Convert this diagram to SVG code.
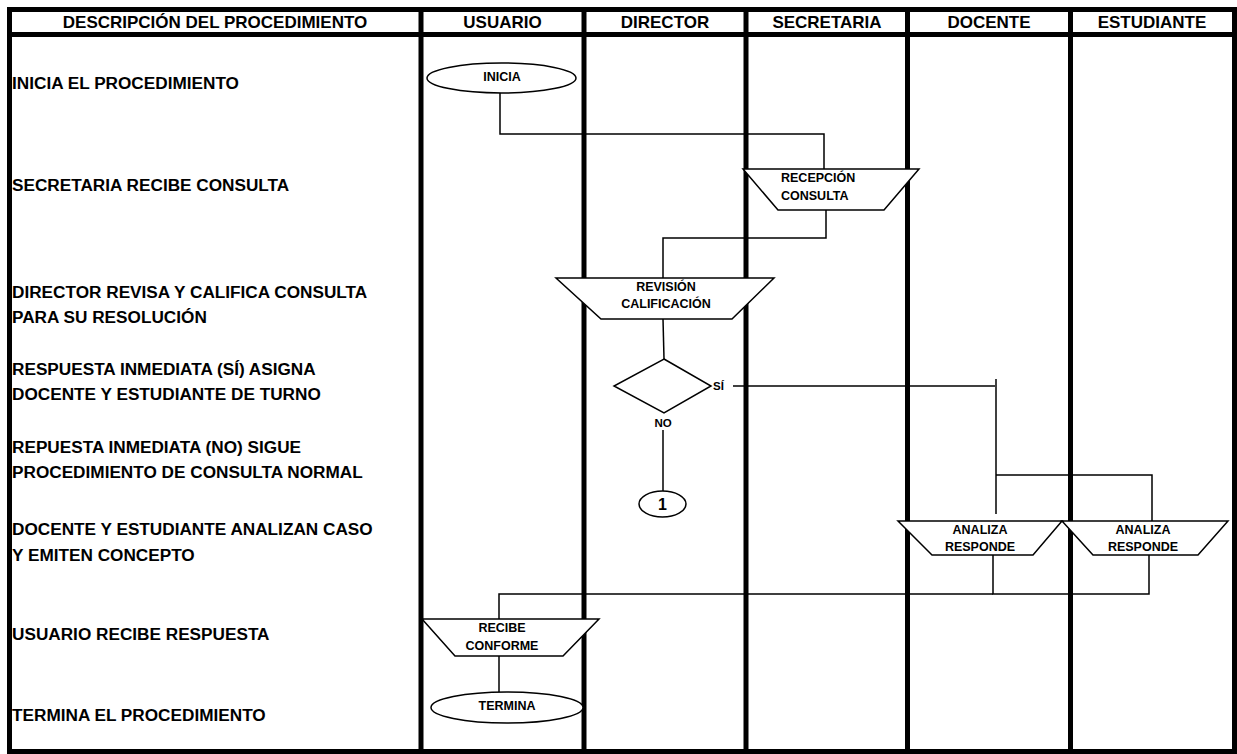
<svg xmlns="http://www.w3.org/2000/svg" width="1237" height="754" viewBox="0 0 1237 754">
<style>
.t{font-family:"Liberation Sans",Arial,sans-serif;font-weight:bold;fill:#000}
.h{font-size:17px;text-anchor:middle}
.d{font-size:17.2px}
.s{font-size:12.5px;text-anchor:middle}
.frame{fill:none;stroke:#000;stroke-width:5}
.lane{stroke:#000;stroke-width:5}
.shape{fill:#fff;stroke:#000;stroke-width:1.5}
.c{fill:none;stroke:#000;stroke-width:1.5}
</style>
<rect width="1237" height="754" fill="#fff"/>
<g id="lanes">
<rect class="frame" x="9.5" y="9.5" width="1225" height="742"/>
<line class="lane" x1="9.5" y1="34.5" x2="1234.5" y2="34.5"/>
<line class="lane" x1="421" y1="9.5" x2="421" y2="751.5"/>
<line class="lane" x1="584" y1="9.5" x2="584" y2="751.5"/>
<line class="lane" x1="746" y1="9.5" x2="746" y2="751.5"/>
<line class="lane" x1="907.5" y1="9.5" x2="907.5" y2="751.5"/>
<line class="lane" x1="1070.5" y1="9.5" x2="1070.5" y2="751.5"/>
</g>
<g id="header">
<text class="t h" x="215" y="28">DESCRIPCIÓN DEL PROCEDIMIENTO</text>
<text class="t h" x="502.5" y="28">USUARIO</text>
<text class="t h" x="665" y="28">DIRECTOR</text>
<text class="t h" x="827" y="28">SECRETARIA</text>
<text class="t h" x="989" y="28">DOCENTE</text>
<text class="t h" x="1152" y="28">ESTUDIANTE</text>
</g>
<g id="descriptions">
<text class="t d" x="12" y="89">INICIA EL PROCEDIMIENTO</text>
<text class="t d" x="12" y="191">SECRETARIA RECIBE CONSULTA</text>
<text class="t d" x="12" y="298">DIRECTOR REVISA Y CALIFICA CONSULTA</text>
<text class="t d" x="12" y="323">PARA SU RESOLUCIÓN</text>
<text class="t d" x="12" y="375">RESPUESTA INMEDIATA (SÍ) ASIGNA</text>
<text class="t d" x="12" y="400">DOCENTE Y ESTUDIANTE DE TURNO</text>
<text class="t d" x="12" y="453">REPUESTA INMEDIATA (NO) SIGUE</text>
<text class="t d" x="12" y="478">PROCEDIMIENTO DE CONSULTA NORMAL</text>
<text class="t d" x="12" y="535">DOCENTE Y ESTUDIANTE ANALIZAN CASO</text>
<text class="t d" x="12" y="561">Y EMITEN CONCEPTO</text>
<text class="t d" x="12" y="640">USUARIO RECIBE RESPUESTA</text>
<text class="t d" x="12" y="721">TERMINA EL PROCEDIMIENTO</text>
</g>
<g id="connectors">
<polyline class="c" points="500,93 500,134 824,134 824,169"/>
<polyline class="c" points="826,210 826,238 663,238 663,278"/>
<line class="c" x1="663" y1="319" x2="664" y2="359"/>
<line class="c" x1="733" y1="386" x2="995" y2="386"/>
<line class="c" x1="996" y1="379" x2="996" y2="514"/>
<polyline class="c" points="996,475 1152,475 1152,521"/>
<polyline class="c" points="993,555 993,594 1149,594 1149,555"/>
<polyline class="c" points="993,594 499,594 499,619"/>
<line class="c" x1="499" y1="656" x2="499" y2="692"/>
<line class="c" x1="663" y1="430" x2="663" y2="491"/>
</g>
<g id="inicia">
<ellipse class="shape" cx="501.5" cy="78" rx="74.5" ry="15"/>
<text class="t s" x="502" y="81">INICIA</text>
</g>
<g id="recepcion">
<polygon class="shape" points="743,169 919,169 884,210 778,210"/>
<text class="t s" x="781" y="182" style="text-anchor:start">RECEPCIÓN</text>
<text class="t s" x="781" y="200" style="text-anchor:start">CONSULTA</text>
</g>
<g id="revision">
<polygon class="shape" points="556,278 774,278 732,319 601,319"/>
<text class="t s" x="666" y="291">REVISIÓN</text>
<text class="t s" x="666" y="308">CALIFICACIÓN</text>
</g>
<g id="decision">
<polygon class="shape" points="664,359 711,386 664,413 614,386"/>
<text class="t" x="713" y="390" style="font-size:11.5px">SÍ</text>
<text class="t s" x="663" y="427" style="font-size:11.5px">NO</text>
</g>
<g id="connector1">
<ellipse class="shape" cx="662.5" cy="504" rx="23.5" ry="13"/>
<text class="t" x="662.5" y="510" text-anchor="middle" style="font-size:16px">1</text>
</g>
<g id="analiza-docente">
<polygon class="shape" points="898,521 1062,521 1033,555 932,555"/>
<text class="t s" x="980" y="534">ANALIZA</text>
<text class="t s" x="980" y="551">RESPONDE</text>
</g>
<g id="analiza-estudiante">
<polygon class="shape" points="1062,521 1228,521 1198,555 1093,555"/>
<text class="t s" x="1143" y="534">ANALIZA</text>
<text class="t s" x="1143" y="551">RESPONDE</text>
</g>
<g id="recibe">
<polygon class="shape" points="422,619 599,619 563,656 455,656"/>
<text class="t s" x="502" y="632">RECIBE</text>
<text class="t s" x="502" y="650">CONFORME</text>
</g>
<g id="termina">
<ellipse class="shape" cx="507" cy="707.5" rx="76" ry="15.5"/>
<text class="t s" x="507" y="710">TERMINA</text>
</g>
</svg>
